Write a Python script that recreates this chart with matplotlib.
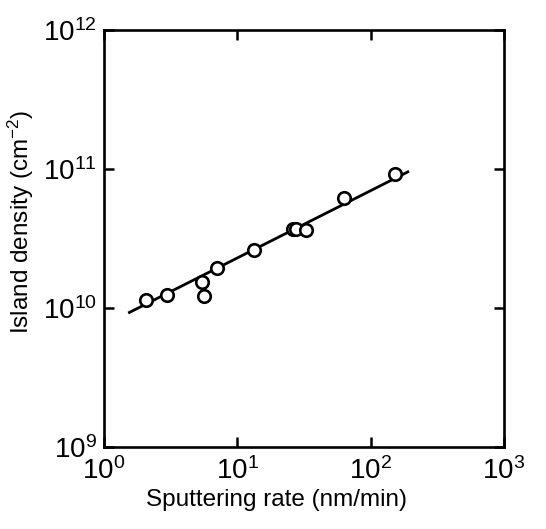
import matplotlib
matplotlib.use("Agg")
import matplotlib.pyplot as plt
from matplotlib.ticker import NullLocator

plt.rcParams["font.family"] = ["Liberation Sans", "DejaVu Sans"]
plt.rcParams["mathtext.default"] = "regular"

# data (x in nm/min, y in cm^-2)
rate = [2.06, 2.97, 5.4, 5.6, 7.0, 13.3, 26.0, 27.7, 33.0, 63.0, 151.0]
density = [1.14e10, 1.24e10, 1.55e10, 1.23e10, 1.93e10, 2.61e10,
           3.70e10, 3.70e10, 3.64e10, 6.2e10, 9.2e10]

# fitted line end points
fit_rate = [1.55, 190.0]
fit_density = [9.3e9, 9.55e10]

x_ticks = [1, 10, 100, 1000]
x_labels = ["$10^{0}$", "$10^{1}$", "$10^{2}$", "$10^{3}$"]
y_ticks = [1e9, 1e10, 1e11, 1e12]
y_labels = ["$10^{9}$", "$10^{10}$", "$10^{11}$", "$10^{12}$"]

fig = plt.figure(figsize=(5.46, 5.29), dpi=100)
ax = fig.add_axes([0.1905, 0.155, 0.7326, 0.788])

ax.plot(fit_rate, fit_density, color="black", linewidth=2.0)
ax.plot(rate, density, linestyle="none", marker="o", markersize=9,
        markerfacecolor="white", markeredgecolor="black", markeredgewidth=1.9)

ax.set_xscale("log")
ax.set_yscale("log")
ax.set_xlim(1, 1000)
ax.set_ylim(1e9, 1e12)

ax.set_xticks(x_ticks)
ax.set_xticklabels(x_labels)
ax.set_yticks(y_ticks)
ax.set_yticklabels(y_labels)
ax.xaxis.set_minor_locator(NullLocator())
ax.yaxis.set_minor_locator(NullLocator())

ax.tick_params(which="major", direction="in", length=7, width=1.8,
               top=True, right=True, labelsize=20)
ax.tick_params(axis="x", pad=7)
ax.tick_params(axis="y", pad=5)
for side in ax.spines.values():
    side.set_linewidth(1.9)

ax.set_xlabel("Sputtering rate (nm/min)", fontsize=17.5)
ax.set_ylabel("Island density (cm$^{-2}$)", fontsize=17.5)
# the scan has both axis titles a little off centre
ax.xaxis.set_label_coords(0.43, -0.1)
ax.yaxis.set_label_coords(-0.17, 0.54)

fig.savefig("out.png", dpi=100)
